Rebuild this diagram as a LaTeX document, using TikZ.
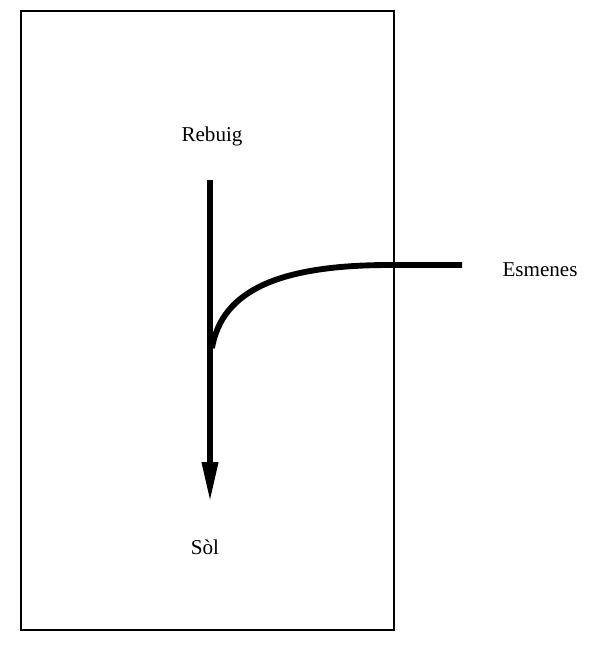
\documentclass[tikz,border=0pt]{standalone}
\usepackage{fontspec}
\setmainfont{Liberation Serif}
\usetikzlibrary{arrows.meta}

\begin{document}
\begin{tikzpicture}[x=0.03cm,y=-0.03cm,font=\fontsize{18}{21}\selectfont,
  lbl/.style={inner sep=0pt,anchor=base},
  flow/.style={line width=5pt},
  frame/.style={line width=1.3pt}]
\useasboundingbox (0,0) rectangle (589,659);
\draw[frame] (21,11) rectangle (394,630);
\node[lbl] (rebuig) at (212,141) {Rebuig};
\node[lbl] (sol) at (205,554) {Sòl};
\node[lbl] (esmenes) at (540,276) {Esmenes};
\coordinate (in) at (210,180);
\coordinate (out) at (210,502);
\coordinate (join) at (212,348);
\coordinate (feed) at (462,265);
% main flow downward
\draw[flow,-{Triangle[length=34pt,width=13pt]}] (in) -- (out);
% side input joining the flow
\draw[flow] (feed) -- (390,265) .. controls (280,265) and (222,290) .. (join);
\end{tikzpicture}
\end{document}
